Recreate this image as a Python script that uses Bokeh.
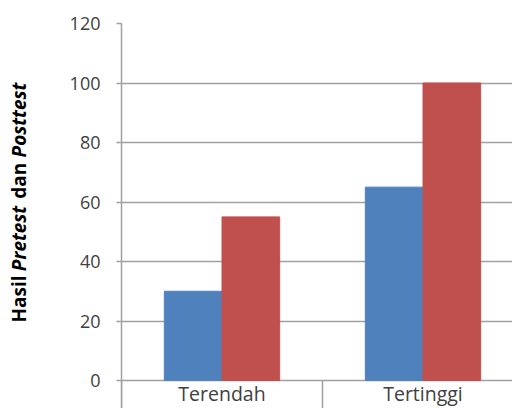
import numpy as np
from bokeh.plotting import figure
from bokeh.layouts import row
from bokeh.models import ColumnDataSource, FixedTicker, Range1d, Label
from bokeh.core.properties import value
from bokeh.embed import file_html
from bokeh.resources import INLINE

categories = ["Terendah", "Tertinggi"]
pretest = [30, 65]
posttest = [55, 100]
y_ticks = [0, 20, 40, 60, 80, 100, 120]

BLUE = "#4F81BD"
RED = "#C0504D"
GRID = "#a0a0a0"
TXT = "#404040"
FONT = "Open Sans"

n = len(categories)
centers = np.arange(n) + 0.5
bounds = np.arange(n + 1)
bar_w = 0.287

src = ColumnDataSource(dict(
    xb=centers - bar_w / 2, xr=centers + bar_w / 2,
    pre=pretest, post=posttest, cx=centers, name=categories,
))

TITLE_W = 40
px_per_y = 357 / 120
p = figure(width=512 - TITLE_W, height=408, output_backend="svg", toolbar_location=None,
           x_range=Range1d(0, 391 / 201), y_range=Range1d(-28 / px_per_y, 120),
           min_border_left=121 - TITLE_W, min_border_right=0, min_border_top=23,
           min_border_bottom=0)
p.outline_line_color = None
p.background_fill_color = "white"
p.border_fill_color = "white"
p.xaxis.visible = False

p.vbar(x="xb", top="pre", width=bar_w, bottom=0, source=src, fill_color=BLUE, line_color=BLUE)
p.vbar(x="xr", top="post", width=bar_w, bottom=0, source=src, fill_color=RED, line_color=RED)

# category separators below the baseline and category names
p.ray(x=bounds, y=[0] * len(bounds), length=0, angle=-np.pi / 2,
      line_color=GRID, line_width=1.5)
p.text(x="cx", y=0, text="name", source=src, text_font=value(FONT),
       text_font_size="19.5px", text_color=TXT, text_align="center",
       text_baseline="alphabetic", y_offset=13)

# y axis
p.yaxis.ticker = FixedTicker(ticks=y_ticks)
p.yaxis.axis_line_color = GRID
p.yaxis.axis_line_width = 1.5
p.yaxis.major_tick_line_color = GRID
p.yaxis.major_tick_line_width = 1.5
p.yaxis.major_tick_out = 5
p.yaxis.major_tick_in = 0
p.yaxis.minor_tick_line_color = None
p.yaxis.major_label_text_font = FONT
p.yaxis.major_label_text_font_size = "18px"
p.yaxis.major_label_text_color = TXT
p.yaxis.major_label_standoff = 16

p.xgrid.visible = False
p.ygrid.ticker = FixedTicker(ticks=y_ticks)
p.ygrid.grid_line_color = GRID
p.ygrid.grid_line_width = 1.5

# rotated y-axis title with mixed styles, in a narrow side panel
t = figure(width=TITLE_W, height=408, output_backend="svg", toolbar_location=None,
           x_axis_type=None, y_axis_type=None, x_range=Range1d(0, 1), y_range=Range1d(0, 1),
           min_border=0)
t.outline_line_color = None
t.grid.visible = False
t.background_fill_color = "white"
t.border_fill_color = "white"

fs = 19
pieces = [("Hasil", "bold", 2.70),
          ("Pretest", "bold italic", 3.81),
          ("dan", "bold", 2.18),
          ("Posttest", "bold italic", 3.95)]
y0 = 86
for txt, style, em in pieces:
    t.add_layout(Label(x=18, y=y0, x_units="screen", y_units="screen", text=txt,
                       angle=np.pi / 2, text_font=FONT, text_font_size=f"{fs}px",
                       text_font_style=style, text_color="black",
                       text_align="left", text_baseline="middle"))
    y0 += em * fs

layout = row(t, p, spacing=0)
open("out.html", "w").write(file_html(layout, INLINE))
